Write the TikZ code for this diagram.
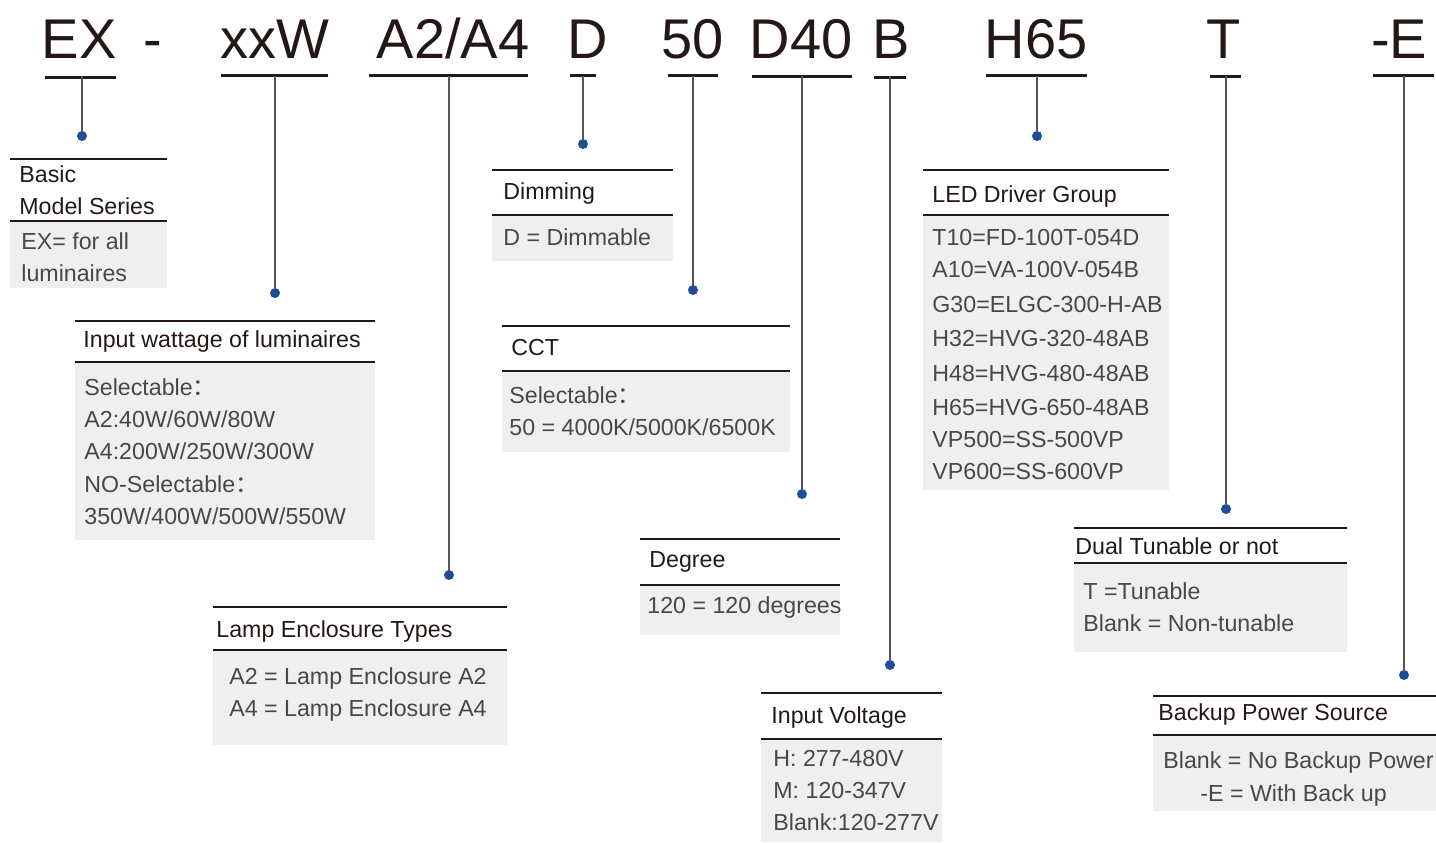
\documentclass[tikz,border=0pt]{standalone}
\usepackage{fontspec}
\setmainfont{Liberation Sans}
\newfontfamily\cjkfont{Noto Sans CJK SC}
\usetikzlibrary{positioning}
\definecolor{inkdark}{RGB}{35,24,21}
\definecolor{bodygray}{RGB}{72,72,72}
\definecolor{panelgray}{RGB}{238,239,238}
\definecolor{dotblue}{RGB}{31,78,150}
\definecolor{stemgray}{RGB}{85,85,85}
\tikzset{
  code/.style={font=\fontsize{28}{30}\selectfont, text=inkdark, anchor=base, inner sep=0pt},
  codeline/.style={line width=1.5pt, draw=inkdark},
  stem/.style={line width=0.6pt, draw=stemgray},
  pin/.style={circle, fill=dotblue, inner sep=0pt, minimum size=5pt},
  rule/.style={line width=1pt, draw=inkdark},
  panel/.style={fill=panelgray},
  headtxt/.style={font=\fontsize{11.6}{14}\selectfont, text=inkdark, anchor=base west, inner sep=0pt},
  bodytxt/.style={font=\fontsize{11.6}{14}\selectfont, text=bodygray, anchor=base west, inner sep=0pt}
}

\begin{document}
\begin{tikzpicture}[x=0.5pt, y=-0.5pt]
  \useasboundingbox (0,0) rectangle (1436,842);

  % model code
  \node[code] (ex) at (79,58) {EX};
  \node[code] (dash) at (153,58) {-};
  \node[code] (watt) at (275,58) {xxW};
  \node[code] (lamp) at (453,58) {A2/A4};
  \node[code] (dim) at (588,58) {D};
  \node[code] (cct) at (693,58) {50};
  \node[code] (deg) at (801,58) {D40};
  \node[code] (volt) at (891,58) {B};
  \node[code] (led) at (1036,58) {H65};
  \node[code] (dual) at (1224,58) {T};
  \node[code] (backup) at (1399,58) {-E};

  \foreach \a/\b/\y in {45/116/77, 221/328/75, 369/528/75, 570/596/75, 668/718/75,
                        752/852/76, 874/906/77, 986/1087/75, 1210/1241/76, 1373/1434/75}
    \draw[codeline] (\a,\y) -- (\b,\y);

  % stems with pins
  \foreach \n/\x/\y in {ex/82/136, watt/275/293, lamp/449/575, dim/583/144, cct/693/290,
                        deg/802/494, volt/890/665, led/1037/136, dual/1226/509, backup/1404/675} {
    \coordinate (\n u) at (\x,76);
    \node[pin] (\n p) at (\x,\y) {};
    \draw[stem] (\n u) -- (\n p);
  }

  % panels: left/right/top rule/middle rule/bottom
  \foreach \a/\b/\t/\m/\e in {10/167/159/221/288, 75/375/321/362/540, 213/507/607/650/745,
                              492/673/170/215/261, 502/790/326/371/452, 640/840/539/585/635,
                              761/942/693/739/842, 923/1169/170/215/490, 1074/1347/528/563/652,
                              1153/1436/696/735/811} {
    \fill[panel] (\a,\m) rectangle (\b,\e);
    \draw[rule] (\a,\t) -- (\b,\t);
    \draw[rule] (\a,\m) -- (\b,\m);
  }

  % basic model series
  \node[headtxt] (exh1) at (19,182) {Basic};
  \node[headtxt] (exh2) at (19,214) {Model Series};
  \node[bodytxt] (exb1) at (21,249) {EX= for all};
  \node[bodytxt] (exb2) at (21,281) {luminaires};

  % input wattage
  \node[headtxt] (watth) at (83,347) {Input wattage of luminaires};
  \node[bodytxt] (wattb1) at (84,395) {Selectable{\cjkfont ：}};
  \node[bodytxt] (wattb2) at (84,427) {A2:40W/60W/80W};
  \node[bodytxt] (wattb3) at (84,459) {A4:200W/250W/300W};
  \node[bodytxt] (wattb4) at (84,492) {NO-Selectable{\cjkfont ：}};
  \node[bodytxt] (wattb5) at (84,524) {350W/400W/500W/550W};

  % lamp enclosure
  \node[headtxt] (lamph) at (216,637) {Lamp Enclosure Types};
  \node[bodytxt] (lampb1) at (229,684) {A2 = Lamp Enclosure A2};
  \node[bodytxt] (lampb2) at (229,716) {A4 = Lamp Enclosure A4};

  % dimming
  \node[headtxt] (dimh) at (503,199) {Dimming};
  \node[bodytxt] (dimb1) at (503,245) {D = Dimmable};

  % cct
  \node[headtxt] (ccth) at (511,355) {CCT};
  \node[bodytxt] (cctb1) at (509,403) {Selectable{\cjkfont ：}};
  \node[bodytxt] (cctb2) at (509,435) {50 = 4000K/5000K/6500K};

  % degree
  \node[headtxt] (degh) at (649,567) {Degree};
  \node[bodytxt] (degb1) at (647,613) {120 = 120 degrees};

  % input voltage
  \node[headtxt] (volth) at (771,723) {Input Voltage};
  \node[bodytxt] (voltb1) at (773,766) {H: 277-480V};
  \node[bodytxt] (voltb2) at (773,798) {M: 120-347V};
  \node[bodytxt] (voltb3) at (773,830) {Blank:120-277V};

  % led driver group
  \node[headtxt] (ledh) at (932,202) {LED Driver Group};
  \foreach \y/\t [count=\i] in {245/T10=FD-100T-054D, 277/A10=VA-100V-054B, 312/G30=ELGC-300-H-AB,
                                346/H32=HVG-320-48AB, 381/H48=HVG-480-48AB, 415/H65=HVG-650-48AB,
                                447/VP500=SS-500VP, 479/VP600=SS-600VP}
    \node[bodytxt] (ledb\i) at (932,\y) {\t};

  % dual tunable
  \node[headtxt] (dualh) at (1075,554) {Dual Tunable or not};
  \node[bodytxt] (dualb1) at (1083,599) {T =Tunable};
  \node[bodytxt] (dualb2) at (1083,631) {Blank = Non-tunable};

  % backup power
  \node[headtxt] (backuph) at (1158,720) {Backup Power Source};
  \node[bodytxt] (backupb1) at (1163,768) {Blank = No Backup Power};
  \node[bodytxt] (backupb2) at (1200,801) {-E = With Back up};
\end{tikzpicture}
\end{document}
